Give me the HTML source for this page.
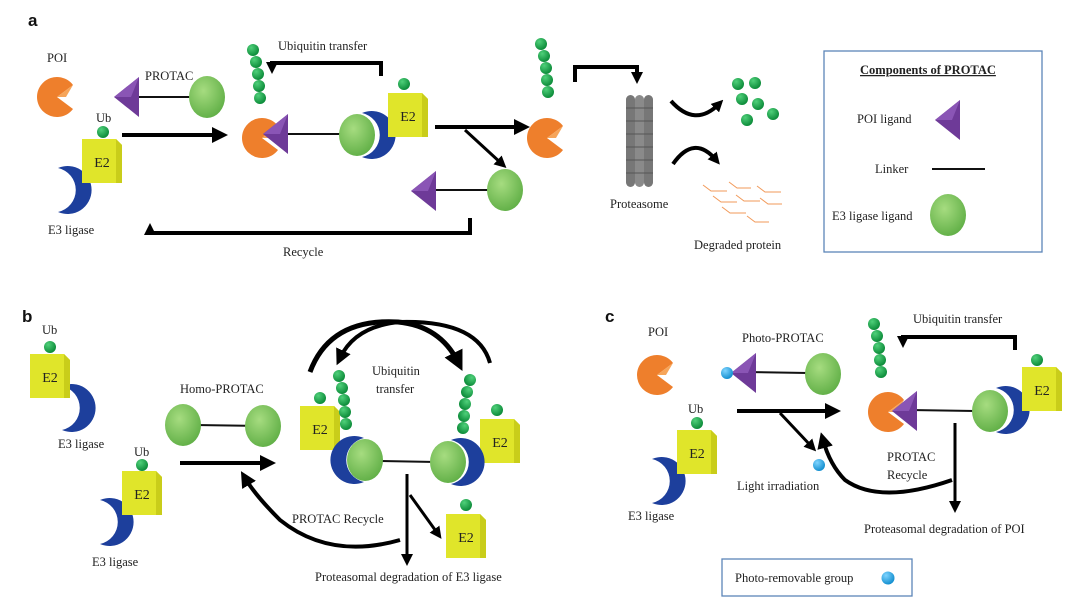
<!DOCTYPE html>
<html><head><meta charset="utf-8"><style>
html,body{margin:0;padding:0;background:#fff}
svg{display:block}
text{font-family:"Liberation Serif",serif;font-size:12.5px;fill:#222}
.lab{font-family:"Liberation Sans",sans-serif;font-weight:bold;font-size:17px;fill:#111}
.e2t{font-size:14px;text-anchor:middle}
</style></head><body>
<svg width="1080" height="610" viewBox="0 0 1080 610" xmlns="http://www.w3.org/2000/svg">
<defs>
<radialGradient id="gb" cx="40%" cy="35%" r="70%"><stop offset="0" stop-color="#a6dc80"/><stop offset="1" stop-color="#5fae45"/></radialGradient>
<radialGradient id="gu" cx="35%" cy="30%" r="70%"><stop offset="0" stop-color="#4fd07a"/><stop offset="1" stop-color="#0d8c3a"/></radialGradient>
<radialGradient id="gc" cx="35%" cy="30%" r="70%"><stop offset="0" stop-color="#7fd4ff"/><stop offset="1" stop-color="#1590d0"/></radialGradient>
<g id="pac"><path d="M0,0 L16,-12 A20,20 0 1 0 16,12 Z" fill="#ee7f2c"/><path d="M0,0 L16,-12 L9,0 Z" fill="#f6a55a"/></g>
<g id="tri"><polygon points="-13,0 12,-20 12,20" fill="#6e3a98"/><polygon points="-13,0 12,-20 4,0" fill="#8a55b5"/></g>
<ellipse id="ball" cx="0" cy="0" rx="18" ry="21" fill="url(#gb)"/>
<circle id="ub" cx="0" cy="0" r="6" fill="url(#gu)"/>
<g id="e2"><polygon points="-20,-22 14,-22 20,-16 20,22 -20,22" fill="#e0e52a"/><polygon points="14,-22 20,-16 20,22 14,22" fill="#c9cd1a"/></g>
<path id="cres" d="M-14,-22 A24,24 0 1 1 -14,22 A22.5,22.5 0 0 0 -14,-22 Z" fill="#1d3f9c"/>
<g id="chain"><use href="#ub" x="0" y="0"/><use href="#ub" x="3" y="12"/><use href="#ub" x="5" y="24"/><use href="#ub" x="6" y="36"/><use href="#ub" x="7" y="48"/></g>
<marker id="ah" viewBox="0 0 10 10" refX="5" refY="5" markerWidth="4" markerHeight="4" orient="auto"><path d="M0,0 L10,5 L0,10 Z" fill="#000"/></marker>
<marker id="ahs" viewBox="0 0 10 10" refX="5" refY="5" markerWidth="3" markerHeight="3" orient="auto"><path d="M0,0 L10,5 L0,10 Z" fill="#000"/></marker>
</defs>

<!-- PANEL A -->
<text x="28" y="26" class="lab">a</text>
<text x="47" y="62">POI</text>
<use href="#pac" x="57" y="97"/>
<text x="145" y="80">PROTAC</text>
<line x1="135" y1="97" x2="192" y2="97" stroke="#111" stroke-width="2"/>
<use href="#tri" x="127" y="97"/>
<use href="#ball" x="207" y="97"/>
<text x="96" y="122">Ub</text>
<use href="#cres" x="72" y="190"/>
<use href="#e2" x="102" y="161"/><text x="102" y="167" class="e2t">E2</text>
<use href="#ub" x="103" y="132"/>
<text x="48" y="234">E3 ligase</text>
<line x1="122" y1="135" x2="220" y2="135" stroke="#000" stroke-width="4" marker-end="url(#ah)"/>
<!-- complex a -->
<use href="#chain" x="253" y="50"/>
<use href="#cres" x="376" y="135"/>
<use href="#pac" x="262" y="138"/>
<line x1="285" y1="134" x2="345" y2="134" stroke="#111" stroke-width="2"/>
<use href="#tri" x="276" y="134"/>
<use href="#ball" x="357" y="135"/>
<use href="#e2" x="408" y="115"/><text x="408" y="121" class="e2t">E2</text>
<use href="#ub" x="404" y="84"/>
<text x="278" y="50">Ubiquitin  transfer</text>
<path d="M381,76 V63 H272 V68" fill="none" stroke="#000" stroke-width="4" marker-end="url(#ahs)"/>
<line x1="435" y1="127" x2="522" y2="127" stroke="#000" stroke-width="4" marker-end="url(#ah)"/>
<line x1="465" y1="130" x2="502" y2="164" stroke="#000" stroke-width="3" marker-end="url(#ah)"/>
<line x1="430" y1="190" x2="490" y2="190" stroke="#111" stroke-width="2"/>
<use href="#tri" x="424" y="191"/>
<use href="#ball" x="505" y="190"/>
<path d="M470,218 V233 H150 V229" fill="none" stroke="#000" stroke-width="4" marker-end="url(#ahs)"/>
<text x="283" y="256">Recycle</text>
<use href="#chain" x="541" y="44"/>
<use href="#pac" x="547" y="138"/>
<path d="M575,82 V67 H637 V78" fill="none" stroke="#000" stroke-width="4" marker-end="url(#ahs)"/>
<g fill="#777">
<rect x="626" y="95" width="9" height="92" rx="4.5"/><rect x="635" y="95" width="9" height="92" rx="4.5" fill="#8a8a8a"/><rect x="644" y="95" width="9" height="92" rx="4.5"/>
</g>
<g stroke="#555" stroke-width="1">
<line x1="626" y1="108" x2="653" y2="108"/><line x1="626" y1="121" x2="653" y2="121"/><line x1="626" y1="134" x2="653" y2="134"/><line x1="626" y1="147" x2="653" y2="147"/><line x1="626" y1="160" x2="653" y2="160"/><line x1="626" y1="173" x2="653" y2="173"/>
</g>
<text x="610" y="208">Proteasome</text>
<path d="M671,101 Q695,128 719,104" fill="none" stroke="#000" stroke-width="4" marker-end="url(#ahs)"/>
<path d="M673,164 Q694,134 716,160" fill="none" stroke="#000" stroke-width="4" marker-end="url(#ahs)"/>
<use href="#ub" x="738" y="84"/><use href="#ub" x="755" y="83"/><use href="#ub" x="742" y="99"/><use href="#ub" x="758" y="104"/><use href="#ub" x="747" y="120"/><use href="#ub" x="773" y="114"/>
<g stroke="#f29a5a" stroke-width="1" fill="none">
<path d="M703,185 l8,6 h16"/><path d="M729,182 l8,6 h14"/><path d="M757,186 l8,6 h16"/>
<path d="M713,196 l8,6 h16"/><path d="M736,195 l8,6 h16"/><path d="M760,198 l8,6 h14"/>
<path d="M722,207 l8,6 h16"/><path d="M747,216 l8,6 h14"/>
</g>
<text x="694" y="249">Degraded protein</text>
<rect x="824" y="51" width="218" height="201" fill="none" stroke="#5c85b8" stroke-width="1.3"/>
<text x="860" y="74" font-weight="bold" text-decoration="underline">Components  of PROTAC</text>
<text x="857" y="123">POI ligand</text>
<use href="#tri" x="948" y="120"/>
<text x="875" y="173">Linker</text>
<line x1="932" y1="169" x2="985" y2="169" stroke="#111" stroke-width="2"/>
<text x="832" y="220">E3 ligase  ligand</text>
<use href="#ball" x="948" y="215"/>

<!-- PANEL B -->
<text x="22" y="322" class="lab">b</text>
<text x="42" y="334">Ub</text>
<use href="#cres" x="76" y="408"/>
<use href="#e2" x="50" y="376"/><text x="50" y="382" class="e2t">E2</text>
<use href="#ub" x="50" y="347"/>
<text x="58" y="448">E3 ligase</text>
<text x="180" y="393">Homo-PROTAC</text>
<line x1="195" y1="425" x2="260" y2="426" stroke="#111" stroke-width="2"/>
<use href="#ball" x="183" y="425"/><use href="#ball" x="263" y="426"/>
<text x="134" y="456">Ub</text>
<use href="#cres" x="114" y="522"/>
<use href="#e2" x="142" y="493"/><text x="142" y="499" class="e2t">E2</text>
<use href="#ub" x="142" y="465"/>
<text x="92" y="566">E3 ligase</text>
<line x1="180" y1="463" x2="268" y2="463" stroke="#000" stroke-width="4" marker-end="url(#ah)"/>
<!-- complex b -->
<use href="#e2" x="320" y="428"/><text x="320" y="434" class="e2t">E2</text>
<use href="#ub" x="320" y="398"/>
<use href="#chain" x="339" y="376"/>
<use href="#cres" transform="translate(350,460) scale(-1,1)"/>
<use href="#e2" x="500" y="441"/><text x="500" y="447" class="e2t">E2</text>
<use href="#ub" x="497" y="410"/>
<use href="#chain" transform="translate(458,380) scale(-1,1) translate(-12,0)"/>
<use href="#cres" x="465" y="462"/>
<line x1="378" y1="461" x2="436" y2="462" stroke="#111" stroke-width="2"/>
<use href="#ball" x="365" y="460"/><use href="#ball" x="448" y="462"/>
<text x="372" y="375">Ubiquitin</text>
<text x="376" y="393">transfer</text>
<path d="M310,372 Q330,318 398,322 Q440,326 458,362" fill="none" stroke="#000" stroke-width="5" marker-end="url(#ah)"/>
<path d="M490,363 Q478,320 400,322 Q355,326 340,358" fill="none" stroke="#000" stroke-width="4" marker-end="url(#ah)"/>
<line x1="407" y1="474" x2="407" y2="560" stroke="#000" stroke-width="3" marker-end="url(#ah)"/>
<line x1="410" y1="495" x2="438" y2="534" stroke="#000" stroke-width="3" marker-end="url(#ah)"/>
<use href="#e2" x="466" y="536"/><text x="466" y="542" class="e2t">E2</text>
<use href="#ub" x="466" y="505"/>
<text x="292" y="523">PROTAC Recycle</text>
<path d="M400,540 Q330,560 280,520 Q255,495 245,478" fill="none" stroke="#000" stroke-width="4" marker-end="url(#ah)"/>
<text x="315" y="581">Proteasomal  degradation  of E3 ligase</text>

<!-- PANEL C -->
<text x="605" y="322" class="lab">c</text>
<text x="648" y="336">POI</text>
<use href="#pac" x="657" y="375"/>
<text x="742" y="342">Photo-PROTAC</text>
<line x1="745" y1="372" x2="808" y2="373" stroke="#111" stroke-width="2"/>
<use href="#tri" x="744" y="373"/>
<circle cx="727" cy="373" r="6" fill="url(#gc)"/>
<use href="#ball" x="823" y="374"/>
<text x="688" y="413">Ub</text>
<use href="#cres" x="666" y="481"/>
<use href="#e2" x="697" y="452"/><text x="697" y="458" class="e2t">E2</text>
<use href="#ub" x="697" y="423"/>
<text x="628" y="520">E3 ligase</text>
<line x1="737" y1="411" x2="833" y2="411" stroke="#000" stroke-width="4" marker-end="url(#ah)"/>
<line x1="780" y1="413" x2="812" y2="447" stroke="#000" stroke-width="3" marker-end="url(#ah)"/>
<circle cx="819" cy="465" r="6" fill="url(#gc)"/>
<text x="737" y="490">Light  irradiation</text>
<use href="#chain" x="874" y="324"/>
<use href="#cres" x="1010" y="410"/>
<use href="#pac" x="888" y="412"/>
<line x1="910" y1="410" x2="975" y2="411" stroke="#111" stroke-width="2"/>
<use href="#tri" x="905" y="411"/>
<use href="#ball" x="990" y="411"/>
<use href="#e2" x="1042" y="389"/><text x="1042" y="395" class="e2t">E2</text>
<use href="#ub" x="1037" y="360"/>
<text x="913" y="323">Ubiquitin  transfer</text>
<path d="M1015,350 V337 H903 V342" fill="none" stroke="#000" stroke-width="4" marker-end="url(#ahs)"/>
<line x1="955" y1="423" x2="955" y2="507" stroke="#000" stroke-width="3" marker-end="url(#ah)"/>
<text x="887" y="461">PROTAC</text>
<text x="887" y="479">Recycle</text>
<path d="M952,480 Q880,505 845,480 Q830,465 823,440" fill="none" stroke="#000" stroke-width="4" marker-end="url(#ah)"/>
<text x="864" y="533">Proteasomal  degradation  of POI</text>
<rect x="722" y="559" width="190" height="37" fill="none" stroke="#5c85b8" stroke-width="1.3"/>
<text x="735" y="582">Photo-removable  group</text>
<circle cx="888" cy="578" r="6.5" fill="url(#gc)"/>
</svg>
</body></html>
